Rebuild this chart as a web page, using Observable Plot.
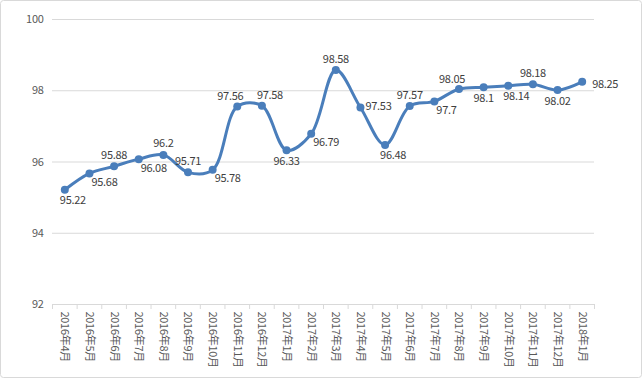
<!DOCTYPE html>
<html>
<head>
<meta charset="utf-8">
<script src="https://cdn.jsdelivr.net/npm/d3@7"></script>
<script src="https://cdn.jsdelivr.net/npm/@observablehq/plot@0.6"></script>
<style>
  html, body { margin: 0; padding: 0; background: #fff; }
  #chart { width: 643px; height: 379px; }
  #chart svg text { letter-spacing: -0.3px; }
</style>
</head>
<body>
<div id="chart"></div>
<script>
const months = ["2016年4月","2016年5月","2016年6月","2016年7月","2016年8月","2016年9月","2016年10月","2016年11月","2016年12月",
  "2017年1月","2017年2月","2017年3月","2017年4月","2017年5月","2017年6月","2017年7月","2017年8月","2017年9月","2017年10月","2017年11月","2017年12月","2018年1月"];
const values = [95.22,95.68,95.88,96.08,96.2,95.71,95.78,97.56,97.58,96.33,96.79,98.58,97.53,96.48,97.57,97.7,98.05,98.1,98.14,98.18,98.02,98.25];
// data-label placement keywords (t = above, tl/tr = above shifted, b = below, bs = below shifted, br = below-right, r/rr = right)
const labelPlacement = ["bs","br","t","br","t","t","br","tl","tr","b","br","t","r","bs","t","br","tl","b","bs","t","b","rr"];
const yTicks = [92,94,96,98,100];

const data = months.map((m, i) => ({i: i + 0.5, month: m, value: values[i], place: labelPlacement[i]}));
const lineColor = "#4a7ebb";
const gridColor = "#d9d9d9";
const fmt = v => String(v);

const textStyle = {fill: "#404040", fontSize: 11};
const placements = [
  {key: "t", dx: 0, dy: -11, anchor: "middle"},
  {key: "tl", dx: -7, dy: -10, anchor: "middle"},
  {key: "tr", dx: 8, dy: -10, anchor: "middle"},
  {key: "b", dx: 0, dy: 11, anchor: "middle"},
  {key: "bs", dx: 8, dy: 11, anchor: "middle"},
  {key: "br", dx: 2, dy: 9, anchor: "start"},
  {key: "r", dx: 5, dy: -1, anchor: "start"},
  {key: "rr", dx: 10, dy: 3, anchor: "start"}
];
const plot = Plot.plot({
  width: 643,
  height: 379,
  marginLeft: 52,
  marginRight: 49,
  marginTop: 19,
  marginBottom: 75,
  style: {fontFamily: "'Microsoft YaHei','Noto Sans CJK SC','DejaVu Sans',sans-serif", fontSize: "11px", background: "transparent"},
  x: {type: "linear", domain: [0, months.length]},
  y: {domain: [92, 100]},
  marks: [
    Plot.ruleY(yTicks, {stroke: gridColor, strokeWidth: 1}),
    Plot.ruleX(d3.range(months.length + 1), {y1: 92, y2: 92, insetBottom: -5, stroke: gridColor}),
    Plot.axisY({ticks: yTicks, tickSize: 0, tickPadding: 9, color: "#595959", label: null, fontSize: 11}),
    Plot.axisX({ticks: data.map(d => d.i), tickFormat: v => months[Math.floor(v)], tickRotate: 90, tickSize: 0, tickPadding: 7, color: "#595959", label: null, fontSize: 11}),
    Plot.line(data, {x: "i", y: "value", stroke: lineColor, strokeWidth: 3, curve: "catmull-rom"}),
    Plot.dot(data, {x: "i", y: "value", fill: lineColor, r: 4}),
    ...placements.map(p => Plot.text(data, {
      filter: d => d.place === p.key, x: "i", y: "value", text: d => fmt(d.value),
      dx: p.dx, dy: p.dy, textAnchor: p.anchor, ...textStyle
    }))
  ]
});
document.getElementById("chart").appendChild(plot);
// outer chart-area border
d3.select(plot).append("rect")
  .attr("x", 0.5).attr("y", 0.5).attr("width", 641).attr("height", 377).attr("rx", 3)
  .attr("fill", "none").attr("stroke", gridColor);
</script>
</body>
</html>
